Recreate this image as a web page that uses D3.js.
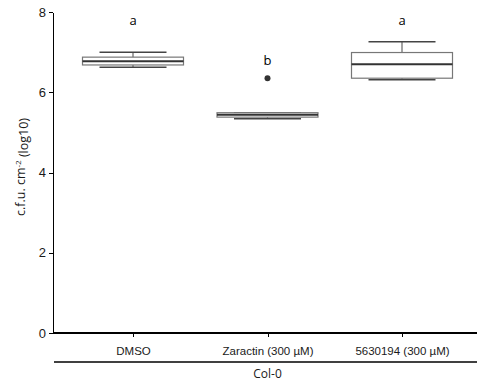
<!DOCTYPE html>
<meta charset="utf-8">
<style>
body { margin: 0; font-family: "Open Sans", sans-serif; }
.axis path, .axis line { stroke: #000; shape-rendering: crispEdges; }
.axis text { font-size: 13px; fill: #1a1a1a; }
</style>
<body>
<script src="https://d3js.org/d3.v7.min.js"></script>
<script>
// --- data ---
var groups = ["DMSO", "Zaractin (300 \u00b5M)", "5630194 (300 \u00b5M)"];
var lowWhisker = [6.62, 5.34, 6.31];
var q1 = [6.68, 5.38, 6.35];
var median = [6.77, 5.44, 6.70];
var q3 = [6.875, 5.49, 6.99];
var highWhisker = [7.0, 5.49, 7.26];
var outliers = [[], [6.35], []];
var letters = ["a", "b", "a"];
var letterPos = [7.8, 6.8, 7.8];
var yTicks = [0, 2, 4, 6, 8];

var width = 477, height = 389;
var margin = {left: 53, top: 12, bottom: 56};

var svg = d3.select("body").append("svg")
    .attr("width", width)
    .attr("height", height);

var x = d3.scalePoint()
    .domain(groups)
    .range([133, 402]);

var y = d3.scaleLinear()
    .domain([0, 8])
    .range([333, 12]);

var boxW = 101, capW = 67;

var g = svg.selectAll(".box")
    .data(groups)
  .enter().append("g")
    .attr("class", "box");

// whiskers
g.append("line")
    .attr("x1", function(d) { return x(d); })
    .attr("x2", function(d) { return x(d); })
    .attr("y1", function(d, i) { return y(highWhisker[i]); })
    .attr("y2", function(d, i) { return y(lowWhisker[i]); })
    .attr("stroke", "#666").attr("stroke-width", 1.2);

g.append("line")
    .attr("x1", function(d) { return x(d) - capW / 2; })
    .attr("x2", function(d) { return x(d) + capW / 2; })
    .attr("y1", function(d, i) { return y(highWhisker[i]); })
    .attr("y2", function(d, i) { return y(highWhisker[i]); })
    .attr("stroke", "#444").attr("stroke-width", 1.5);

g.append("line")
    .attr("x1", function(d) { return x(d) - capW / 2; })
    .attr("x2", function(d) { return x(d) + capW / 2; })
    .attr("y1", function(d, i) { return y(lowWhisker[i]); })
    .attr("y2", function(d, i) { return y(lowWhisker[i]); })
    .attr("stroke", "#444").attr("stroke-width", 1.5);

g.append("rect")
    .attr("x", function(d) { return x(d) - boxW / 2; })
    .attr("width", boxW)
    .attr("y", function(d, i) { return y(q3[i]); })
    .attr("height", function(d, i) { return y(q1[i]) - y(q3[i]); })
    .attr("fill", "#fff")
    .attr("stroke", "#777").attr("stroke-width", 1.2);

g.append("line")
    .attr("x1", function(d) { return x(d) - boxW / 2; })
    .attr("x2", function(d) { return x(d) + boxW / 2; })
    .attr("y1", function(d, i) { return y(median[i]); })
    .attr("y2", function(d, i) { return y(median[i]); })
    .attr("stroke", "#333").attr("stroke-width", 2);

g.each(function(d, i) {
  d3.select(this).selectAll("circle")
      .data(outliers[i])
    .enter().append("circle")
      .attr("cx", x(d))
      .attr("cy", function(v) { return y(v); })
      .attr("r", 3)
      .attr("fill", "#333");
});

g.append("text")
    .attr("x", function(d) { return x(d); })
    .attr("y", function(d, i) { return y(letterPos[i]); })
    .attr("text-anchor", "middle")
    .attr("dy", "0.35em")
    .style("font-size", "13px")
    .style("fill", "#000")
    .text(function(d, i) { return letters[i]; });

// axes
svg.append("g")
    .attr("class", "axis")
    .attr("transform", "translate(" + margin.left + ",0)")
    .call(d3.axisLeft(y).tickValues(yTicks).tickSize(4).tickSizeOuter(0))
    .call(function(s) { s.select(".domain").attr("stroke-width", 1.5); });

var xa = svg.append("g")
    .attr("class", "axis")
    .attr("transform", "translate(0,333)")
    .call(d3.axisBottom(x).tickSize(4).tickSizeOuter(0).tickPadding(10));
xa.select(".domain").attr("d", "M" + margin.left + ",0H" + width).attr("stroke-width", 1.5);
xa.selectAll("text").style("font-size", "11.5px");

svg.append("line")
    .attr("x1", 54).attr("x2", width)
    .attr("y1", 362).attr("y2", 362)
    .attr("stroke", "#000").attr("stroke-width", 1.5);

svg.append("text")
    .attr("x", x(groups[1]))
    .attr("y", 378)
    .attr("text-anchor", "middle")
    .style("font-size", "12px")
    .style("fill", "#1a1a1a")
    .text("Col-0");

var yl = svg.append("text")
    .attr("transform", "translate(21,167) rotate(-90)")
    .attr("text-anchor", "middle")
    .attr("dy", "0.35em")
    .style("font-size", "12.5px")
    .style("fill", "#1a1a1a");
yl.append("tspan").text("c.f.u. cm");
yl.append("tspan").attr("dy", "-0.5em").style("font-size", "8px").text("-2");
yl.append("tspan").attr("dy", "0.5em").text(" (log10)");
</script>
</body>
